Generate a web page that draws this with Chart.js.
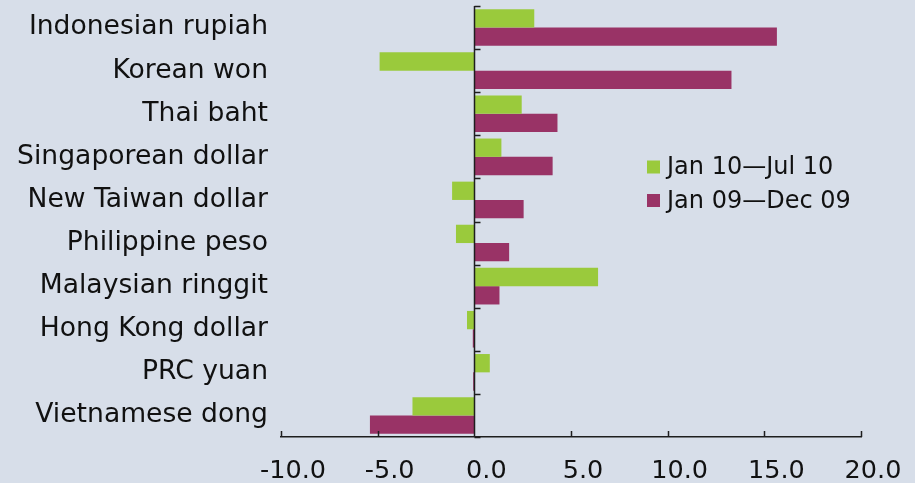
<!DOCTYPE html>
<html>
<head>
<meta charset="utf-8">
<script src="https://cdn.jsdelivr.net/npm/chart.js@4/dist/chart.umd.min.js"></script>
<style>
  html, body { margin: 0; padding: 0; background: #d7dee9; }
  #wrap { width: 915px; height: 483px; position: relative; }
</style>
</head>
<body>
<div id="wrap"><canvas id="c"></canvas></div>
<script>
const categories = [
  'Indonesian rupiah', 'Korean won', 'Thai baht', 'Singaporean dollar',
  'New Taiwan dollar', 'Philippine peso', 'Malaysian ringgit',
  'Hong Kong dollar', 'PRC yuan', 'Vietnamese dong'
];
const seriesNames = ['Jan 10\u2014Jul 10', 'Jan 09\u2014Dec 09'];
const jan10Jul10 = [3.1, -4.9, 2.45, 1.4, -1.15, -0.95, 6.4, -0.38, 0.8, -3.2];
const jan09Dec09 = [15.65, 13.3, 4.3, 4.05, 2.55, 1.8, 1.3, -0.08, -0.06, -5.4];
const xMin = -10, xMax = 20, xStep = 5;

const BG = '#d7dee9';
const AXIS = '#1e1e1e';
const TEXT = '#111111';
const FONT = "'DejaVu Sans', Verdana, sans-serif";

const bgPlugin = {
  id: 'bg',
  beforeDraw(chart) {
    const ctx = chart.ctx;
    ctx.save();
    ctx.fillStyle = BG;
    ctx.fillRect(0, 0, chart.width, chart.height);
    ctx.restore();
  }
};

const axesPlugin = {
  id: 'axesDeco',
  afterDatasetsDraw(chart) {
    const ctx = chart.ctx;
    const xs = chart.scales.x, ys = chart.scales.y;
    const area = chart.chartArea;
    const x0 = Math.round(xs.getPixelForValue(0)) + 0.5;
    ctx.save();
    ctx.strokeStyle = AXIS;
    ctx.lineWidth = 1.5;
    ctx.beginPath();
    ctx.moveTo(x0, area.top);
    ctx.lineTo(x0, area.bottom);
    for (let i = 0; i <= categories.length; i++) {
      const y = Math.round(ys.getPixelForValue(i - 0.5)) + 0.5;
      ctx.moveTo(x0, y);
      ctx.lineTo(x0 + 6, y);
    }
    for (let v = xMin; v <= xMax; v += xStep) {
      const x = Math.round(xs.getPixelForValue(v)) + 0.5;
      ctx.moveTo(x, area.bottom);
      ctx.lineTo(x, area.bottom - 6);
    }
    ctx.stroke();
    ctx.restore();
  },
  afterDraw(chart) {
    const ctx = chart.ctx;
    ctx.save();
    ctx.font = '24px ' + FONT;
    ctx.textBaseline = 'middle';
    ctx.textAlign = 'left';
    const rows = [167, 200.5];
    chart.data.datasets.forEach((ds, i) => {
      ctx.fillStyle = ds.backgroundColor;
      ctx.fillRect(647, rows[i] - 6.5, 13, 13);
      ctx.fillStyle = TEXT;
      ctx.fillText(ds.label, 667, rows[i] + 1);
    });
    ctx.restore();
  }
};

new Chart(document.getElementById('c'), {
  type: 'bar',
  data: {
    labels: categories,
    datasets: [
      { label: seriesNames[0], data: jan10Jul10, backgroundColor: '#9aca3c' },
      { label: seriesNames[1], data: jan09Dec09, backgroundColor: '#993366' }
    ]
  },
  options: {
    indexAxis: 'y',
    responsive: true,
    maintainAspectRatio: false,
    animation: false,
    devicePixelRatio: 1,
    categoryPercentage: 0.85,
    barPercentage: 1.0,
    layout: { padding: { left: 0, top: 6, right: 54, bottom: 0 } },
    plugins: { legend: { display: false }, tooltip: { enabled: false } },
    scales: {
      x: {
        min: xMin, max: xMax,
        afterFit(s) { s.height = 46; s.paddingLeft = 0; s.paddingRight = 0; },
        grid: { display: false, drawTicks: false },
        border: { display: true, color: AXIS, width: 1.5 },
        ticks: {
          stepSize: xStep,
          padding: 19,
          labelOffset: 12,
          color: TEXT,
          font: { family: FONT, size: 25.5 },
          callback: v => v.toFixed(1)
        }
      },
      y: {
        afterFit(s) { s.width = 281; s.paddingTop = 0; s.paddingBottom = 0; },
        grid: { display: false, drawTicks: false },
        border: { display: false },
        ticks: {
          padding: 13,
          color: TEXT,
          font: { family: FONT, size: 26.6 }
        }
      }
    }
  },
  plugins: [bgPlugin, axesPlugin]
});
</script>
</body>
</html>
